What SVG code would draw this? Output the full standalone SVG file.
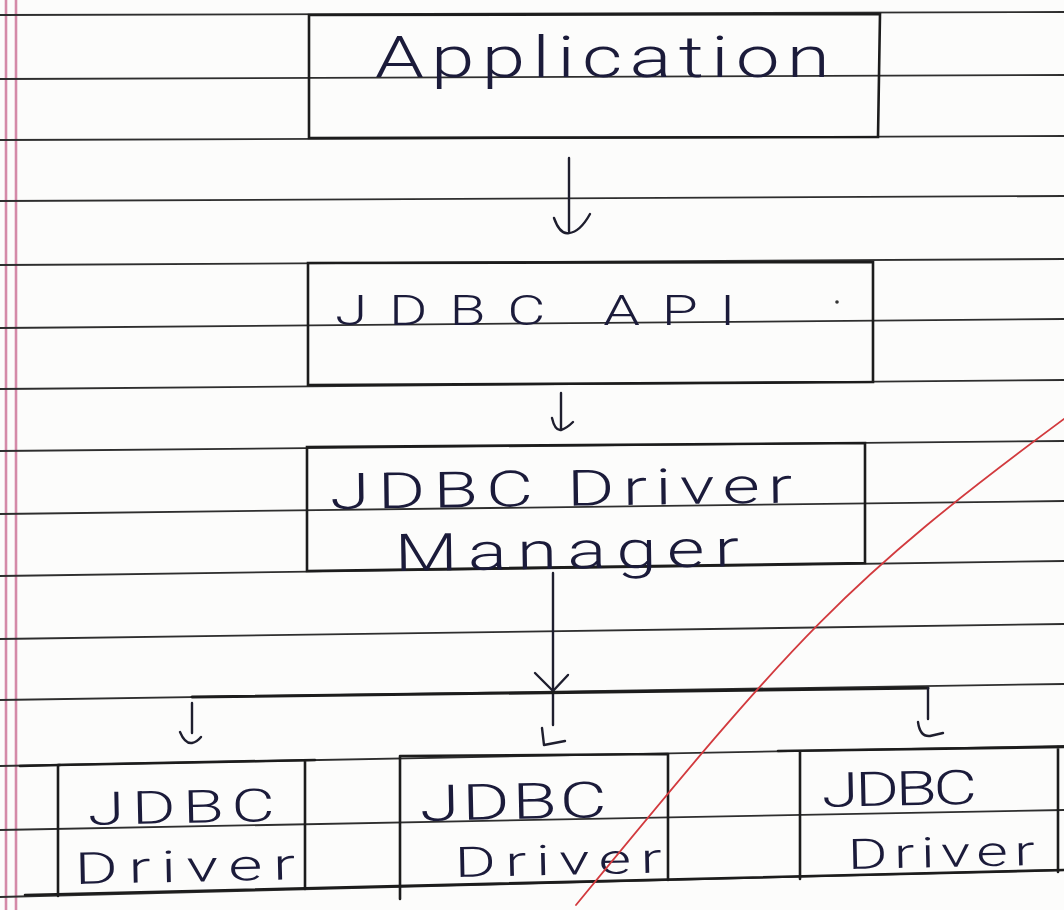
<svg xmlns="http://www.w3.org/2000/svg" width="1064" height="910" viewBox="0 0 1064 910">
  <style>
    .rule { stroke: #2e2e2e; stroke-width: 1.8; fill: none; }
    .margin { stroke: #d48aa8; stroke-width: 2.6; fill: none; }
    .edge { stroke: #1c1c1c; stroke-width: 2.6; fill: none; stroke-linecap: round; }
    .ink { stroke: #1e1e2e; stroke-width: 2.4; fill: none; stroke-linecap: round; stroke-linejoin: round; }
    .bus { stroke: #1c1c1c; stroke-width: 3; fill: none; stroke-linecap: round; }
    .hand { font-family: "Roboto", "Liberation Sans", sans-serif; font-weight: 300; fill: #1b1b3a; }
    .redmark { stroke: #d23a3e; stroke-width: 1.8; fill: none; stroke-linecap: round; }
  </style>

  <!-- notebook page -->
  <g id="paper">
    <rect x="0" y="0" width="1064" height="910" fill="#fcfcfb"/>
    <line class="margin" x1="6" y1="0" x2="6" y2="910"/>
    <line class="margin" x1="16" y1="0" x2="16" y2="910"/>
    <line class="rule" x1="0" y1="15" x2="1064" y2="12"/>
    <line class="rule" x1="0" y1="79" x2="1064" y2="75"/>
    <line class="rule" x1="0" y1="140" x2="1064" y2="136"/>
    <line class="rule" x1="0" y1="201" x2="1064" y2="196"/>
    <line class="rule" x1="0" y1="265" x2="1064" y2="259"/>
    <line class="rule" x1="0" y1="328" x2="1064" y2="319"/>
    <line class="rule" x1="0" y1="389" x2="1064" y2="380"/>
    <line class="rule" x1="0" y1="451" x2="1064" y2="441"/>
    <line class="rule" x1="0" y1="514" x2="1064" y2="501"/>
    <line class="rule" x1="0" y1="576" x2="1064" y2="561"/>
    <line class="rule" x1="0" y1="639" x2="1064" y2="624"/>
    <line class="rule" x1="0" y1="700" x2="1064" y2="684"/>
    <line class="rule" x1="0" y1="766" x2="1064" y2="746"/>
    <line class="rule" x1="0" y1="830" x2="1064" y2="810"/>
    <line class="rule" x1="0" y1="897" x2="1064" y2="870"/>
    <circle cx="837" cy="302" r="1.8" fill="#333"/>
  </g>

  <!-- Application -->
  <g id="node-application">
    <path class="edge" d="M309,15 L880,14 L878,137 L309,138 Z"/>
    <text class="hand" transform="translate(375 77) scale(1.35 1)" font-size="58" textLength="337" lengthAdjust="spacing">Application</text>
  </g>

  <!-- JDBC API -->
  <g id="node-jdbc-api">
    <path class="edge" d="M308,263 L873,262 L873,382 L308,385 Z"/>
    <text class="hand" transform="translate(335 325) scale(1.4 1)" font-size="42" textLength="286" lengthAdjust="spacing">JDBC API</text>
  </g>

  <!-- JDBC Driver Manager -->
  <g id="node-driver-manager">
    <path class="edge" d="M307,447 L865,443 L865,563 L307,571 Z"/>
    <text class="hand" transform="translate(330 509) rotate(-0.8) scale(1.45 1)" font-size="50" textLength="319" lengthAdjust="spacing">JDBC Driver</text>
    <text class="hand" transform="translate(395 571) rotate(-0.8) scale(1.4 1)" font-size="52" textLength="246" lengthAdjust="spacing">Manager</text>
  </g>

  <!-- driver row: shared bottom edge and spare cell -->
  <g id="driver-row">
    <line class="edge" x1="25" y1="895" x2="1064" y2="870"/>
    <line class="edge" x1="20" y1="766" x2="60" y2="765"/>
  </g>

  <g id="node-driver-1">
    <path class="edge" d="M58,765 L315,760 M58,765 L58,896 M305,761 L305,889"/>
    <text class="hand" transform="translate(88 825) rotate(-1.2) scale(1.45 1)" font-size="46" textLength="129" lengthAdjust="spacing">JDBC</text>
    <text class="hand" transform="translate(75 884) rotate(-1.2) scale(1.5 1)" font-size="44" textLength="147" lengthAdjust="spacing">Driver</text>
  </g>

  <g id="node-driver-2">
    <path class="edge" d="M400,756 L668,754 M400,756 L400,899 M668,754 L668,880"/>
    <text class="hand" transform="translate(420 821) rotate(-1.2) scale(1.45 1)" font-size="50" textLength="129" lengthAdjust="spacing">JDBC</text>
    <text class="hand" transform="translate(455 877) rotate(-1.2) scale(1.5 1)" font-size="42" textLength="138" lengthAdjust="spacing">Driver</text>
  </g>

  <g id="node-driver-3">
    <path class="edge" d="M778,751 L1064,747 M800,751 L800,879 M1058,747 L1058,872"/>
    <text class="hand" transform="translate(822 807) rotate(-1.2) scale(1.4 1)" font-size="48" textLength="111" lengthAdjust="spacing">JDBC</text>
    <text class="hand" transform="translate(848 869) rotate(-1.2) scale(1.45 1)" font-size="42" textLength="129" lengthAdjust="spacing">Driver</text>
  </g>

  <!-- arrows between layers -->
  <g id="connectors">
    <line class="ink" x1="569" y1="158" x2="569" y2="231"/>
    <path class="ink" d="M554,218 Q560,235 569,233 Q580,232 590,214"/>

    <line class="ink" x1="561" y1="393" x2="561" y2="429"/>
    <path class="ink" d="M552,418 Q555,431 561,430 Q567,428 573,422"/>

    <line class="ink" x1="553" y1="573" x2="553" y2="725"/>
    <path class="ink" d="M535,673 L553,691 L568,675"/>
    <path class="ink" d="M542,728 L544,745 L565,741"/>

    <line class="bus" x1="192" y1="697" x2="928" y2="688"/>

    <line class="ink" x1="192" y1="703" x2="192" y2="733"/>
    <path class="ink" d="M180,732 Q185,744 192,743 Q197,742 201,737"/>

    <line class="ink" x1="928" y1="688" x2="928" y2="719"/>
    <path class="ink" d="M918,722 Q920,737 930,736 L943,733"/>
  </g>

  <!-- red tick stroke across the page -->
  <path id="red-mark" class="redmark" d="M1064,419 C844,582 796,637 576,905"/>
</svg>
